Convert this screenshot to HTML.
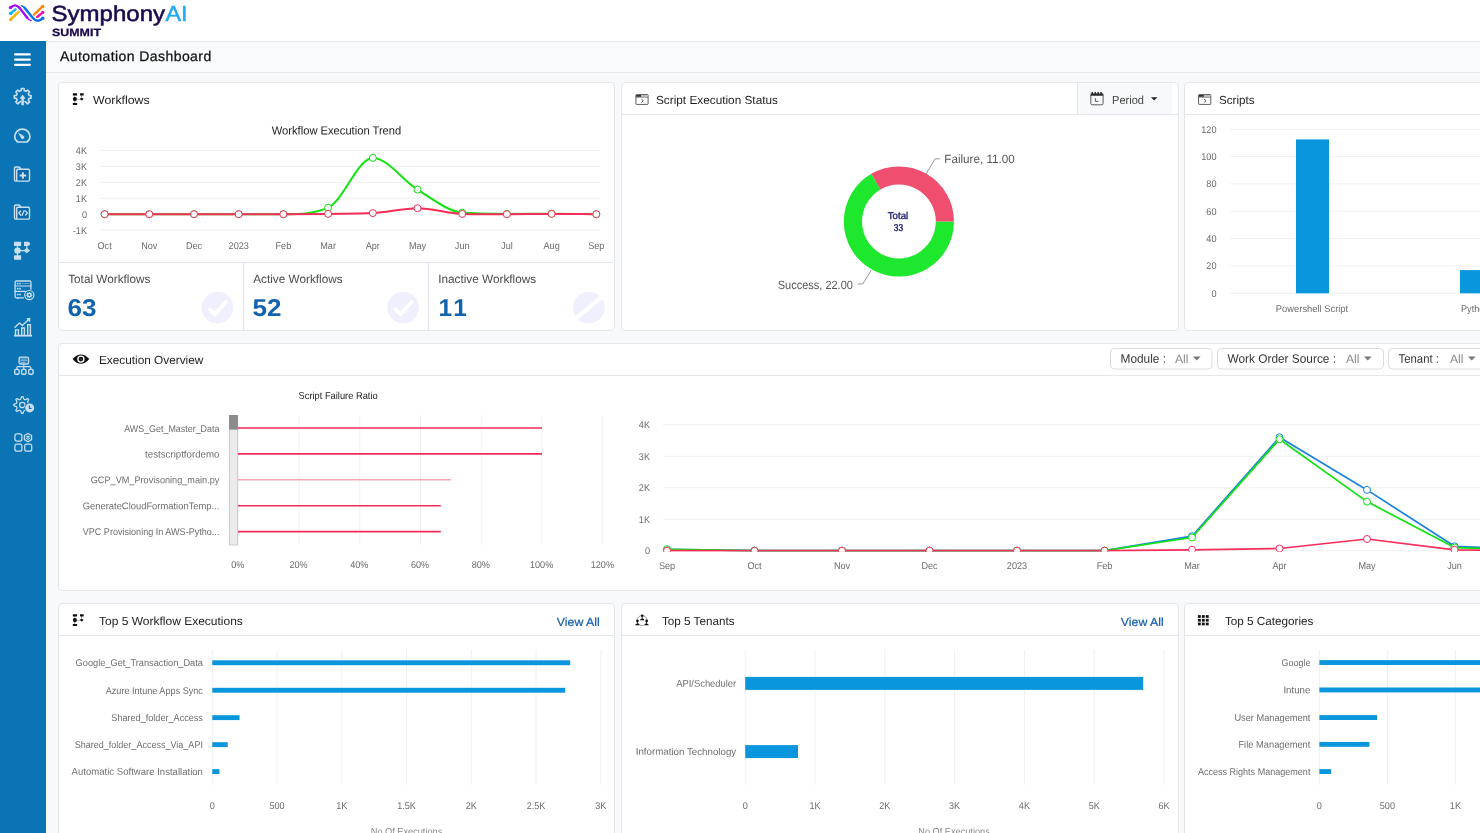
<!DOCTYPE html>
<html lang="en"><head><meta charset="utf-8"><title>Automation Dashboard</title>
<style>
*{box-sizing:border-box;margin:0;padding:0}
html,body{width:1480px;height:833px;overflow:hidden;background:#f8f9fa;font-family:"Liberation Sans",sans-serif}
.abs{position:absolute}
svg{overflow:hidden;display:block}
svg text{font-family:"Liberation Sans",sans-serif;text-rendering:geometricPrecision}
.ttl,.va,#titlebar h1{text-rendering:geometricPrecision}
#topbar{left:0;top:0;width:1480px;height:42px;background:#fff;border-bottom:1px solid #e6e6e6}
#side{left:0;top:41px;width:46px;height:792px;background:#0b74b5}
#titlebar{left:46px;top:42px;width:1434px;height:31px;background:#f9fafb;border-bottom:1px solid #e3e6ea}
#titlebar h1{position:absolute;left:14px;top:6px;-webkit-text-stroke:.25px #111;font-size:14px;font-weight:400;letter-spacing:.42px;color:#111;white-space:nowrap;line-height:16px}
.card{position:absolute;background:#fff;border:1px solid #e5e6e9;border-radius:4px;overflow:hidden}
.chead{position:absolute;left:0;top:0;right:0;height:32px;border-bottom:1px solid #e4e7eb}
.chead.nb{border-bottom:0}
.ttl{position:absolute;top:10px;font-size:11.7px;line-height:16px;color:#1d1d1d;white-space:nowrap;transform-origin:0 50%}
.per{color:#444}
.va{position:absolute;top:10.8px;font-size:11.7px;line-height:16px;color:#1560ac;-webkit-text-stroke:.2px #1560ac;white-space:nowrap;transform-origin:100% 50%}
#wrap{position:absolute;left:0;top:0;width:1480px;height:833px;will-change:transform;overflow:hidden}
</style></head><body><div id="wrap">

<div id="topbar" class="abs">
<svg class="abs " style="left:0px;top:0px" width="220" height="41" viewBox="0 0 220 41">
<g fill="none" stroke-linecap="round" stroke-width="2.4">
<path d="M10.6 7.6C12.4 5.8 13.6 5.4 14.9 5.4C16.6 5.4 17.8 6 19.3 7.6L27.4 18" stroke="#a30dfa"/>
<path d="M27.4 18C28.6 19.4 29.8 20.2 31 20.6" stroke="#a30dfa" stroke-width="1.3"/>
<path d="M21.5 5.6C22.6 6 23.4 6.6 24.3 7.4" stroke="#0a70f0" stroke-width="1.3"/>
<path d="M24.3 7.4L32.9 18C34.4 19.8 35.8 20.7 37.6 20.7C39.6 20.7 41 19.9 42.7 18.3" stroke="#0a70f0"/>
<path d="M10.6 13.4L15.5 9.3" stroke="#0db3fb"/>
<path d="M10.6 19.5L18.7 11.9" stroke="#ffb30a"/>
<path d="M34 14.7L42.7 6.4" stroke="#ff850a"/>
<path d="M37.2 17L42.7 12.4" stroke="#fb0dab"/>
</g>
<g stroke="none"><circle cx="10.6" cy="7.6" r="1.7" fill="#a30dfa"/><circle cx="10.6" cy="13.4" r="1.7" fill="#0db3fb"/><circle cx="10.6" cy="19.5" r="1.7" fill="#ffb30a"/>
<circle cx="42.7" cy="6.4" r="1.75" fill="#ff850a"/><circle cx="42.7" cy="12.4" r="1.7" fill="#fb0dab"/><circle cx="42.7" cy="18.3" r="1.75" fill="#0a70f0"/></g>
<text x="51.6" y="21" font-size="21.8" fill="#1b0a4c" stroke="#1b0a4c" stroke-width=".55" textLength="113.4" lengthAdjust="spacingAndGlyphs">Symphony</text>
<text x="165.6" y="21" font-size="21.8" fill="#1fa9f6" stroke="#1fa9f6" stroke-width=".45" textLength="22" lengthAdjust="spacingAndGlyphs">AI</text>
<text x="52" y="36.3" font-size="10.6" font-weight="700" fill="#1b0a4c" stroke="#1b0a4c" stroke-width=".25" textLength="49" lengthAdjust="spacingAndGlyphs">SUMMIT</text>
</svg></div>
<div id="side" class="abs">
<svg class="abs " style="left:0;top:0" width="46" height="792" viewBox="0 41 46 792">
<g fill="none" stroke="#c9dff0" stroke-width="1.5" stroke-linecap="round" stroke-linejoin="round">
<g stroke="#fff" stroke-width="2.3"><path d="M15.1 54.4H29.8M15.1 59.6H29.8M15.1 64.8H29.8"/></g>
<path d="M19.30 102.44L17.76 103.82L15.78 101.84L17.16 100.30L16.38 98.42L14.32 98.30L14.32 95.50L16.38 95.38L17.16 93.50L15.78 91.96L17.76 89.98L19.30 91.36L21.18 90.58L21.30 88.52L24.10 88.52L24.22 90.58L26.10 91.36L27.64 89.98L29.62 91.96L28.24 93.50L29.02 95.38L31.08 95.50L31.08 98.30L29.02 98.42L28.24 100.30L29.62 101.84L27.64 103.82L26.10 102.44" stroke-width="1.6" stroke-linejoin="round"/>
<path d="M19.30 102.44l1.2-.9M26.10 102.44l-1.2-.9" stroke-width="1.5"/>
<path d="M22.6 94.6L25.6 98.7H23.9V105.2H21.3V98.7H19.6Z" fill="#c9dff0" stroke="none"/>
<path d="M17.6 142H27.1C29 140.4 30 138.6 30 136.7A7.65 7.65 0 0 0 14.7 136.7C14.7 138.6 15.7 140.4 17.6 142Z" stroke-width="1.7" stroke-linejoin="round"/>
<path d="M18 132.6L23.4 135.7A1.75 1.75 0 1 1 21 138.1Z" fill="#c9dff0" stroke="none"/>
<rect x="17.4" y="170" width="11.4" height="10.4" fill="#0a67aa" stroke="none"/>
<path d="M16.4 181.1H15.6Q14.5 181.1 14.5 180V168.1Q14.5 167 15.6 167H18.6Q19.3 167 19.8 167.6L21.2 169.3H28.4Q29.5 169.3 29.5 170.4V180Q29.5 181.1 28.4 181.1H17.6Q16.7 181.1 16.7 180.2V170.4Q16.7 169.3 17.8 169.3H21.2" stroke-width="1.4" stroke-linejoin="round"/>
<rect x="17.4" y="208" width="11.4" height="10.4" fill="#0a67aa" stroke="none"/>
<path d="M16.4 219.1H15.6Q14.5 219.1 14.5 218V206.1Q14.5 205 15.6 205H18.6Q19.3 205 19.8 205.6L21.2 207.3H28.4Q29.5 207.3 29.5 208.4V218Q29.5 219.1 28.4 219.1H17.6Q16.7 219.1 16.7 218.2V208.4Q16.7 207.3 17.8 207.3H21.2" stroke-width="1.4" stroke-linejoin="round"/>
<path d="M19.6 175.5H26.2M22.9 172.2V178.8" stroke-width="2" stroke-linecap="butt"/>
<path d="M20.6 211L18.8 213L20.6 215M25.6 211L27.4 213L25.6 215M24.2 210.6L22 215.4" stroke-width="1.3"/>
<g fill="#c9dff0" stroke="none"><rect x="14" y="241.8" width="7.1" height="4.1" rx=".4"/><path d="M24 241.8H27.8Q30.1 241.8 30.1 243.85T27.8 245.9H24Z"/><circle cx="17.5" cy="250.6" r="3.2"/><rect x="14" y="255.3" width="7.1" height="4.4" rx=".4"/><path d="M26.8 247.9L30.2 250.4L26.8 253.3L23.4 250.4Z"/><path d="M16.9 245H18.1V256H16.9ZM26.2 245H27.4V249H26.2ZM20 250H24.6V251.2H20Z"/></g>
<path d="M23.6 297.8H16.4Q15.1 297.8 15.1 296.5V282.3Q15.1 281 16.4 281H29.6Q30.9 281 30.9 282.3V289.2" stroke-width="1.3"/>
<path d="M15.1 286H30.9M15.1 291.3H25.4" stroke-width="1.2"/>
<g fill="#c9dff0" stroke="none"><circle cx="17.7" cy="283.6" r=".9"/><circle cx="20" cy="283.6" r=".9"/><circle cx="17.7" cy="288.7" r=".9"/><circle cx="20" cy="288.7" r=".9"/><circle cx="17.7" cy="294.5" r=".9"/><circle cx="20" cy="294.5" r=".9"/><rect x="17" y="297.8" width="1.4" height="1.2"/></g>
<path d="M22.2 283.6H29" stroke-width=".7" opacity=".55"/>
<circle cx="29.3" cy="295.1" r="4.6" stroke-width="1.2"/>
<path d="M31.54 294.56L32.34 294.50L32.34 295.70L31.54 295.64L31.26 296.30L31.88 296.82L31.02 297.68L30.50 297.06L29.84 297.34L29.90 298.14L28.70 298.14L28.76 297.34L28.10 297.06L27.58 297.68L26.72 296.82L27.34 296.30L27.06 295.64L26.26 295.70L26.26 294.50L27.06 294.56L27.34 293.90L26.72 293.38L27.58 292.52L28.10 293.14L28.76 292.86L28.70 292.06L29.90 292.06L29.84 292.86L30.50 293.14L31.02 292.52L31.88 293.38L31.26 293.90ZM30.3 295.1A1 1 0 1 0 28.3 295.1A1 1 0 1 0 30.3 295.1Z" fill="#c9dff0" stroke="none" fill-rule="evenodd"/>
<path d="M14 335.7H32.1" stroke-width="1.7" stroke-linecap="butt"/>
<path d="M15.5 335V329.9H18.4V335M21.7 335V328H24.4V335M27.7 335V324.6H30.4V335" stroke-width="1.4" stroke-linejoin="miter" stroke-linecap="butt"/>
<path d="M15 327.2L19.5 322.9L22.4 325.5L28.6 319.6" stroke-width="1.4"/>
<path d="M30.4 317.8L30 322.2L26.2 318.4Z" fill="#c9dff0" stroke="none"/>
<rect x="19.1" y="357.1" width="9.4" height="6.9" rx="1.6" stroke-width="1.4"/>
<path d="M20.8 359H26.6M20.8 360.7H26.6M20.8 362.3H25" stroke-width=".9" opacity=".75"/>
<path d="M23.8 364.7V368.8M16.9 368.8V367.6Q16.9 366.7 17.8 366.7H29.8Q30.7 366.7 30.7 367.6V368.8" stroke-width="1.2"/>
<rect x="14.7" y="369.4" width="4.4" height="4.8" rx="1.3" stroke-width="1.4"/>
<rect x="21.6" y="369.4" width="4.4" height="4.8" rx="1.3" stroke-width="1.4"/>
<rect x="28.7" y="369.4" width="4.4" height="4.8" rx="1.3" stroke-width="1.4"/>
<path d="M20.04 399.55L20.83 398.87L21.70 396.52L22.90 396.52L23.77 398.87L24.56 399.55L25.59 399.63L27.87 398.58L28.72 399.43L27.67 401.71L27.75 402.74L28.43 403.53L30.78 404.40L30.78 405.60L28.43 406.47L27.75 407.26L27.67 408.29L28.72 410.57L27.87 411.42L25.59 410.37L24.56 410.45L23.77 411.13L22.90 413.48L21.70 413.48L20.83 411.13L20.04 410.45L19.01 410.37L16.73 411.42L15.88 410.57L16.93 408.29L16.85 407.26L16.17 406.47L13.82 405.60L13.82 404.40L16.17 403.53L16.85 402.74L16.93 401.71L15.88 399.43L16.73 398.58L19.01 399.63Z" stroke-width="1.25" stroke-linejoin="round"/>
<circle cx="22.3" cy="405" r="2.7" stroke-width="1.3"/>
<circle cx="29.7" cy="407.9" r="5.3" fill="#0b74b5" stroke="none"/>
<circle cx="29.7" cy="407.9" r="4.5" fill="#c9dff0" stroke="none"/>
<path d="M29.4 405.4V408.4H31.6" stroke="#0b74b5" stroke-width="1.2" stroke-linecap="butt"/>
<rect x="14.9" y="433.9" width="7" height="7.2" rx="2" stroke-width="1.25"/>
<rect x="14.9" y="444" width="7" height="7.2" rx="2" stroke-width="1.25"/>
<rect x="24.7" y="444" width="7" height="7.2" rx="2" stroke-width="1.25"/>
<path d="M28.00 433.50L31.55 435.55L31.55 439.65L28.00 441.70L24.45 439.65L24.45 435.55Z" stroke-width="1.3" stroke-linejoin="round"/>
<path d="M28 435.6L30 436.8L28 438L26 436.8ZM26 437.5L28 438.7L30 437.5V438.6L28 440L26 438.6Z" fill="#c9dff0" stroke="none"/>
</g></svg></div>
<div id="titlebar" class="abs"><h1>Automation Dashboard</h1></div>
<div class="card" style="left:58px;top:82px;width:557px;height:249px">
<div class="chead nb">
<span class="ttl" style="left:33.8px;transform:rotate(.03deg) scaleX(1.056)">Workflows</span>
</div>
<svg class="abs"  style="left:-1px;top:-1px" width="557" height="249" viewBox="58 82 557 249">
<g fill="#0d0d0d"><rect x="72.8" y="93.2" width="4.3" height="2.2" rx=".5"/><rect x="80.0" y="93.2" width="3.7" height="2.2" rx=".5"/><circle cx="74.9" cy="99.1" r="2.05"/><rect x="72.8" y="103.0" width="4.3" height="2.1" rx=".5"/><path d="M74.6 95.2h.5v8h-.5z M81.5 95.2h.5v3h-.5z" opacity=".8"/><path d="M76.8 98.9h3.4v.5h-3.4z" opacity=".45"/><path d="M80.0 98.6l1.7-.7 1.7.7v.7l-1.7 1.2-1.7-1.2z"/></g>
<text transform="translate(336.50,134.52) rotate(.03)" font-size="11.8" fill="#222" text-anchor="middle" textLength="129.5" lengthAdjust="spacingAndGlyphs">Workflow Execution Trend</text>
<path d="M100.5 150.6H600.5" stroke="#f0f0f0" stroke-width="1"/>
<text transform="translate(87.00,154.46) rotate(.03) scale(0.93,1)" font-size="9.8" fill="#6b6b6b" text-anchor="end">4K</text>
<path d="M100.5 166.5H600.5" stroke="#f0f0f0" stroke-width="1"/>
<text transform="translate(87.00,170.36) rotate(.03) scale(0.93,1)" font-size="9.8" fill="#6b6b6b" text-anchor="end">3K</text>
<path d="M100.5 182.4H600.5" stroke="#f0f0f0" stroke-width="1"/>
<text transform="translate(87.00,186.26) rotate(.03) scale(0.93,1)" font-size="9.8" fill="#6b6b6b" text-anchor="end">2K</text>
<path d="M100.5 198.3H600.5" stroke="#f0f0f0" stroke-width="1"/>
<text transform="translate(87.00,202.16) rotate(.03) scale(0.93,1)" font-size="9.8" fill="#6b6b6b" text-anchor="end">1K</text>
<path d="M100.5 214.2H600.5" stroke="#f0f0f0" stroke-width="1"/>
<text transform="translate(87.00,218.06) rotate(.03) scale(0.93,1)" font-size="9.8" fill="#6b6b6b" text-anchor="end">0</text>
<path d="M100.5 230.1H600.5" stroke="#f0f0f0" stroke-width="1"/>
<text transform="translate(87.00,233.96) rotate(.03) scale(0.93,1)" font-size="9.8" fill="#6b6b6b" text-anchor="end">-1K</text>
<text transform="translate(104.60,248.76) rotate(.03) scale(0.93,1)" font-size="9.8" fill="#6b6b6b" text-anchor="middle">Oct</text>
<text transform="translate(149.30,248.76) rotate(.03) scale(0.93,1)" font-size="9.8" fill="#6b6b6b" text-anchor="middle">Nov</text>
<text transform="translate(194.00,248.76) rotate(.03) scale(0.93,1)" font-size="9.8" fill="#6b6b6b" text-anchor="middle">Dec</text>
<text transform="translate(238.70,248.76) rotate(.03) scale(0.93,1)" font-size="9.8" fill="#6b6b6b" text-anchor="middle">2023</text>
<text transform="translate(283.40,248.76) rotate(.03) scale(0.93,1)" font-size="9.8" fill="#6b6b6b" text-anchor="middle">Feb</text>
<text transform="translate(328.10,248.76) rotate(.03) scale(0.93,1)" font-size="9.8" fill="#6b6b6b" text-anchor="middle">Mar</text>
<text transform="translate(372.80,248.76) rotate(.03) scale(0.93,1)" font-size="9.8" fill="#6b6b6b" text-anchor="middle">Apr</text>
<text transform="translate(417.50,248.76) rotate(.03) scale(0.93,1)" font-size="9.8" fill="#6b6b6b" text-anchor="middle">May</text>
<text transform="translate(462.20,248.76) rotate(.03) scale(0.93,1)" font-size="9.8" fill="#6b6b6b" text-anchor="middle">Jun</text>
<text transform="translate(506.90,248.76) rotate(.03) scale(0.93,1)" font-size="9.8" fill="#6b6b6b" text-anchor="middle">Jul</text>
<text transform="translate(551.60,248.76) rotate(.03) scale(0.93,1)" font-size="9.8" fill="#6b6b6b" text-anchor="middle">Aug</text>
<text transform="translate(596.30,248.76) rotate(.03) scale(0.93,1)" font-size="9.8" fill="#6b6b6b" text-anchor="middle">Sep</text>
<path d="M104.6 214.2C119.5 214.2 134.4 214.2 149.3 214.2C164.2 214.2 179.1 214.2 194.0 214.2C208.9 214.2 223.8 214.2 238.7 214.2C253.6 214.2 268.5 214.2 283.4 214.2C298.3 214.2 313.2 214.2 328.1 207.7C343.0 201.2 357.9 157.9 372.8 157.9C387.7 157.9 402.6 180.4 417.5 189.6C432.4 198.7 447.3 211.3 462.2 212.6C477.1 213.9 492.0 213.9 506.9 213.9C521.8 213.9 536.7 213.7 551.6 213.7C566.5 213.7 581.4 214.0 596.3 214.2" fill="none" stroke="#12e212" stroke-width="2"/>
<circle cx="104.6" cy="214.2" r="3.5" fill="#fff" stroke="#12e212" stroke-width="1"/>
<circle cx="149.3" cy="214.2" r="3.5" fill="#fff" stroke="#12e212" stroke-width="1"/>
<circle cx="194.0" cy="214.2" r="3.5" fill="#fff" stroke="#12e212" stroke-width="1"/>
<circle cx="238.7" cy="214.2" r="3.5" fill="#fff" stroke="#12e212" stroke-width="1"/>
<circle cx="283.4" cy="214.2" r="3.5" fill="#fff" stroke="#12e212" stroke-width="1"/>
<circle cx="328.1" cy="207.7" r="3.5" fill="#fff" stroke="#12e212" stroke-width="1"/>
<circle cx="372.8" cy="157.9" r="3.5" fill="#fff" stroke="#12e212" stroke-width="1"/>
<circle cx="417.5" cy="189.6" r="3.5" fill="#fff" stroke="#12e212" stroke-width="1"/>
<circle cx="462.2" cy="212.6" r="3.5" fill="#fff" stroke="#12e212" stroke-width="1"/>
<circle cx="506.9" cy="213.9" r="3.5" fill="#fff" stroke="#12e212" stroke-width="1"/>
<circle cx="551.6" cy="213.7" r="3.5" fill="#fff" stroke="#12e212" stroke-width="1"/>
<circle cx="596.3" cy="214.2" r="3.5" fill="#fff" stroke="#12e212" stroke-width="1"/>
<path d="M104.6 214.2C119.5 214.2 134.4 214.2 149.3 214.2C164.2 214.2 179.1 214.2 194.0 214.2C208.9 214.2 223.8 214.2 238.7 214.2C253.6 214.2 268.5 214.2 283.4 214.2C298.3 214.2 313.2 214.1 328.1 213.9C343.0 213.7 357.9 213.9 372.8 213.1C387.7 212.3 402.6 208.2 417.5 208.2C432.4 208.2 447.3 213.6 462.2 213.9C477.1 214.2 492.0 214.2 506.9 214.2C521.8 214.2 536.7 213.9 551.6 213.9C566.5 213.9 581.4 214.1 596.3 214.2" fill="none" stroke="#f52d58" stroke-width="2"/>
<circle cx="104.6" cy="214.2" r="3.5" fill="#fff" stroke="#f52d58" stroke-width="1"/>
<circle cx="149.3" cy="214.2" r="3.5" fill="#fff" stroke="#f52d58" stroke-width="1"/>
<circle cx="194.0" cy="214.2" r="3.5" fill="#fff" stroke="#f52d58" stroke-width="1"/>
<circle cx="238.7" cy="214.2" r="3.5" fill="#fff" stroke="#f52d58" stroke-width="1"/>
<circle cx="283.4" cy="214.2" r="3.5" fill="#fff" stroke="#f52d58" stroke-width="1"/>
<circle cx="328.1" cy="213.9" r="3.5" fill="#fff" stroke="#f52d58" stroke-width="1"/>
<circle cx="372.8" cy="213.1" r="3.5" fill="#fff" stroke="#f52d58" stroke-width="1"/>
<circle cx="417.5" cy="208.2" r="3.5" fill="#fff" stroke="#f52d58" stroke-width="1"/>
<circle cx="462.2" cy="213.9" r="3.5" fill="#fff" stroke="#f52d58" stroke-width="1"/>
<circle cx="506.9" cy="214.2" r="3.5" fill="#fff" stroke="#f52d58" stroke-width="1"/>
<circle cx="551.6" cy="213.9" r="3.5" fill="#fff" stroke="#f52d58" stroke-width="1"/>
<circle cx="596.3" cy="214.2" r="3.5" fill="#fff" stroke="#f52d58" stroke-width="1"/>
<path d="M58 262.5H615M243.5 262.5V331M428.5 262.5V331" stroke="#e4e6ef" stroke-width="1" fill="none"/>
<text transform="translate(68.20,282.91) rotate(.03)" font-size="11.9" fill="#4a4a4a" textLength="82.1" lengthAdjust="spacingAndGlyphs">Total Workflows</text>
<text transform="translate(67.40,315.99) rotate(.03)" font-size="24.4" fill="#1263af" font-weight="700" textLength="29.0" lengthAdjust="spacingAndGlyphs">63</text>
<circle cx="217.5" cy="307.6" r="15.8" fill="#f0effe"/>
<path d="M208.6 308.4L215.0 314.3L226.8 300.8" fill="none" stroke="#fff" stroke-width="3.8"/>
<text transform="translate(253.20,282.91) rotate(.03)" font-size="11.9" fill="#4a4a4a" textLength="89.5" lengthAdjust="spacingAndGlyphs">Active Workflows</text>
<text transform="translate(252.40,315.99) rotate(.03)" font-size="24.4" fill="#1263af" font-weight="700" textLength="29.0" lengthAdjust="spacingAndGlyphs">52</text>
<circle cx="403.2" cy="307.6" r="15.8" fill="#f0effe"/>
<path d="M394.3 308.4L400.7 314.3L412.5 300.8" fill="none" stroke="#fff" stroke-width="3.8"/>
<text transform="translate(438.20,282.91) rotate(.03)" font-size="11.9" fill="#4a4a4a" textLength="98.0" lengthAdjust="spacingAndGlyphs">Inactive Workflows</text>
<text transform="translate(438.50,315.99) rotate(.03)" font-size="24.4" fill="#1263af" font-weight="700" letter-spacing="2.5">11</text>
<circle cx="588.9" cy="307.6" r="15.8" fill="#f0effe"/>
<path d="M576.7 317.6L601.1 297.6" fill="none" stroke="#fff" stroke-width="4"/>
</svg>
</div>
<div class="card" style="left:621px;top:82px;width:558px;height:249px">
<div class="chead">
<span class="ttl" style="left:33.8px;transform:rotate(.03deg) scaleX(1.009)">Script Execution Status</span>
<div class="abs" style="left:455px;top:0;width:95px;height:31px;background:#f8f9fa;border-left:1px solid #e4e7eb"></div>
<span class="ttl per" style="left:490px;transform:rotate(.03deg) scaleX(0.947)">Period</span>
</div>
<svg class="abs " style="left:-1px;top:-1px" width="558" height="249" viewBox="621 82 558 249">
<g fill="none" stroke="#4a4a4a" stroke-width=".9"><rect x="635.9" y="94.6" width="12.2" height="9.8" rx=".6"/><path d="M635.9 97.0h12.2"/><path d="M641.4 99.1l1.9 1.7-1.9 1.7"/></g><path d="M636.2 94.9h5v1.8h-5z" fill="#333"/><path d="M641.2 94.9h6.6v1.8h-6.6z" fill="#bbb"/>
<g fill="none" stroke="#4a4a4a" stroke-width=".9"><rect x="1090.8" y="94.4" width="12.3" height="10.4" rx="1.4"/><path d="M1095.4 98.2v3.2h3"/></g><path d="M1090.6 93.6h12.7v2.2h-12.7z" fill="#2a2a2a"/><path d="M1092.3 92.5v1.6M1095.2 92.5v1.6M1098.1 92.5v1.6M1101 92.5v1.6" stroke="#2a2a2a" stroke-width="1.5" stroke-linecap="round"/>
<path d="M1151 97.3h6.4l-3.2 3.3z" fill="#222"/>
<path d="M954.00 221.50A55.1 55.1 0 1 1 871.35 173.78L880.45 189.54A36.9 36.9 0 1 0 935.80 221.50Z" fill="#1de82d"/>
<path d="M871.35 173.78A55.1 55.1 0 0 1 954.00 221.50L935.80 221.50A36.9 36.9 0 0 0 880.45 189.54Z" fill="#f04e6e"/>
<path d="M926 174.2L935.1 158.8H939.9" fill="none" stroke="#8a8a8a" stroke-width=".9"/>
<path d="M871.2 270.2L862.7 284H857.9" fill="none" stroke="#8a8a8a" stroke-width=".9"/>
<text transform="translate(944.30,163.00) rotate(.03)" font-size="12" fill="#555" textLength="70.5" lengthAdjust="spacingAndGlyphs">Failure, 11.00</text>
<text transform="translate(852.90,288.80) rotate(.03)" font-size="12" fill="#555" text-anchor="end" textLength="75.2" lengthAdjust="spacingAndGlyphs">Success, 22.00</text>
<text transform="translate(898.00,219.09) rotate(.03)" font-size="9.9" fill="#1f2072" text-anchor="middle" textLength="20.5" lengthAdjust="spacingAndGlyphs" stroke="#1f2072" stroke-width=".35">Total</text>
<text transform="translate(898.50,230.79) rotate(.03)" font-size="9.9" fill="#1f2072" text-anchor="middle" textLength="9.3" lengthAdjust="spacingAndGlyphs" stroke="#1f2072" stroke-width=".35">33</text>
</svg>
</div>
<div class="card" style="left:1184px;top:82px;width:320px;height:249px">
<div class="chead">
<span class="ttl" style="left:33.8px;transform:rotate(.03deg) scaleX(0.994)">Scripts</span>
</div>
<svg class="abs " style="left:-1px;top:-1px" width="320" height="249" viewBox="1184 82 320 249">
<g fill="none" stroke="#4a4a4a" stroke-width=".9"><rect x="1198.6" y="94.6" width="12.2" height="9.8" rx=".6"/><path d="M1198.6 97.0h12.2"/><path d="M1204.1 99.1l1.9 1.7-1.9 1.7"/></g><path d="M1198.8999999999999 94.9h5v1.8h-5z" fill="#333"/><path d="M1203.8999999999999 94.9h6.6v1.8h-6.6z" fill="#bbb"/>
<path d="M1230 293.3H1500" stroke="#f0f0f0"/>
<text transform="translate(1216.50,296.76) rotate(.03) scale(0.93,1)" font-size="9.8" fill="#6b6b6b" text-anchor="end">0</text>
<path d="M1230 266.0H1500" stroke="#f0f0f0"/>
<text transform="translate(1216.50,269.42) rotate(.03) scale(0.93,1)" font-size="9.8" fill="#6b6b6b" text-anchor="end">20</text>
<path d="M1230 238.6H1500" stroke="#f0f0f0"/>
<text transform="translate(1216.50,242.08) rotate(.03) scale(0.93,1)" font-size="9.8" fill="#6b6b6b" text-anchor="end">40</text>
<path d="M1230 211.3H1500" stroke="#f0f0f0"/>
<text transform="translate(1216.50,214.74) rotate(.03) scale(0.93,1)" font-size="9.8" fill="#6b6b6b" text-anchor="end">60</text>
<path d="M1230 183.9H1500" stroke="#f0f0f0"/>
<text transform="translate(1216.50,187.40) rotate(.03) scale(0.93,1)" font-size="9.8" fill="#6b6b6b" text-anchor="end">80</text>
<path d="M1230 156.6H1500" stroke="#f0f0f0"/>
<text transform="translate(1216.50,160.06) rotate(.03) scale(0.93,1)" font-size="9.8" fill="#6b6b6b" text-anchor="end">100</text>
<path d="M1230 129.3H1500" stroke="#f0f0f0"/>
<text transform="translate(1216.50,132.72) rotate(.03) scale(0.93,1)" font-size="9.8" fill="#6b6b6b" text-anchor="end">120</text>
<rect x="1296" y="139.4" width="33" height="153.9" fill="#0a96dc"/>
<rect x="1460" y="270.1" width="33" height="23.2" fill="#0a96dc"/>
<text transform="translate(1312.00,311.91) rotate(.03)" font-size="9.8" fill="#6e6e6e" text-anchor="middle" textLength="72.3" lengthAdjust="spacingAndGlyphs">Powershell Script</text>
<text transform="translate(1461.00,311.91) rotate(.03) scale(0.93,1)" font-size="9.8" fill="#6b6b6b">Python Script</text>
</svg>
</div>
<div class="card" style="left:58px;top:343px;width:1460px;height:248px">
<div class="chead">
<span class="ttl" style="left:39.9px;top:9px;transform:rotate(.03deg) scaleX(1.01)">Execution Overview</span>
</div>
<svg class="abs " style="left:-1px;top:-1px" width="1460" height="248" viewBox="58 343 1460 248">
<path d="M72.6 359.1C75.4 355.4 78.2 354.4 80.9 354.4S86.4 355.4 89.3 359.1C86.4 362.8 83.6 363.8 80.9 363.8S75.4 362.8 72.6 359.1Z" fill="#111"/><circle cx="80.9" cy="359.1" r="3.7" fill="#fff"/><circle cx="80.9" cy="359.1" r="2.3" fill="#111"/><circle cx="80.9" cy="359.1" r=".7" fill="#666"/>
<rect x="1110.5" y="348.5" width="101.5" height="20.5" rx="4" fill="#fff" stroke="#dcdcdc"/>
<text transform="translate(1120.50,362.77) rotate(.03)" font-size="12.2" fill="#333" textLength="45.5" lengthAdjust="spacingAndGlyphs">Module :</text>
<text transform="translate(1175.00,363.10) rotate(.03)" font-size="12" fill="#8a8a8a" textLength="13.5" lengthAdjust="spacingAndGlyphs">All</text>
<path d="M1193 356.6h7.6l-3.8 4z" fill="#777"/>
<rect x="1217.5" y="348.5" width="166" height="20.5" rx="4" fill="#fff" stroke="#dcdcdc"/>
<text transform="translate(1227.50,362.77) rotate(.03)" font-size="12.2" fill="#333" textLength="108.5" lengthAdjust="spacingAndGlyphs">Work Order Source :</text>
<text transform="translate(1346.00,363.10) rotate(.03)" font-size="12" fill="#8a8a8a" textLength="13.5" lengthAdjust="spacingAndGlyphs">All</text>
<path d="M1364 356.6h7.6l-3.8 4z" fill="#777"/>
<rect x="1388.5" y="348.5" width="110" height="20.5" rx="4" fill="#fff" stroke="#dcdcdc"/>
<text transform="translate(1398.50,362.77) rotate(.03)" font-size="12.2" fill="#333" textLength="40.5" lengthAdjust="spacingAndGlyphs">Tenant :</text>
<text transform="translate(1450.00,363.10) rotate(.03)" font-size="12" fill="#8a8a8a" textLength="13.5" lengthAdjust="spacingAndGlyphs">All</text>
<path d="M1468 356.6h7.6l-3.8 4z" fill="#777"/>
<text transform="translate(338.10,398.83) rotate(.03)" font-size="10" fill="#222" text-anchor="middle" textLength="79.2" lengthAdjust="spacingAndGlyphs">Script Failure Ratio</text>
<path d="M238.2 415V545" stroke="#f0f0f0"/>
<text transform="translate(237.80,567.81) rotate(.03) scale(0.93,1)" font-size="9.8" fill="#6b6b6b" text-anchor="middle">0%</text>
<path d="M299.0 415V545" stroke="#f0f0f0"/>
<text transform="translate(298.56,567.81) rotate(.03) scale(0.93,1)" font-size="9.8" fill="#6b6b6b" text-anchor="middle">20%</text>
<path d="M359.7 415V545" stroke="#f0f0f0"/>
<text transform="translate(359.32,567.81) rotate(.03) scale(0.93,1)" font-size="9.8" fill="#6b6b6b" text-anchor="middle">40%</text>
<path d="M420.5 415V545" stroke="#f0f0f0"/>
<text transform="translate(420.08,567.81) rotate(.03) scale(0.93,1)" font-size="9.8" fill="#6b6b6b" text-anchor="middle">60%</text>
<path d="M481.2 415V545" stroke="#f0f0f0"/>
<text transform="translate(480.84,567.81) rotate(.03) scale(0.93,1)" font-size="9.8" fill="#6b6b6b" text-anchor="middle">80%</text>
<path d="M542.0 415V545" stroke="#f0f0f0"/>
<text transform="translate(541.60,567.81) rotate(.03) scale(0.93,1)" font-size="9.8" fill="#6b6b6b" text-anchor="middle">100%</text>
<path d="M602.8 415V545" stroke="#f0f0f0"/>
<text transform="translate(602.36,567.81) rotate(.03) scale(0.93,1)" font-size="9.8" fill="#6b6b6b" text-anchor="middle">120%</text>
<rect x="229.4" y="415.4" width="8.2" height="129.6" fill="#ebebeb" stroke="#c4c4c4" stroke-width=".8"/><rect x="229" y="415" width="8.9" height="14.6" fill="#8c8c8c"/>
<text transform="translate(219.40,431.56) rotate(.03)" font-size="9.8" fill="#6e6e6e" text-anchor="end" textLength="95.2" lengthAdjust="spacingAndGlyphs">AWS_Get_Master_Data</text>
<path d="M238 428.0H542.0" stroke="#f42a56" stroke-width="1.6"/>
<text transform="translate(219.40,457.46) rotate(.03)" font-size="9.8" fill="#6e6e6e" text-anchor="end" textLength="74.3" lengthAdjust="spacingAndGlyphs">testscriptfordemo</text>
<path d="M238 453.9H542.0" stroke="#f42a56" stroke-width="1.6"/>
<text transform="translate(219.40,483.36) rotate(.03)" font-size="9.8" fill="#6e6e6e" text-anchor="end" textLength="128.7" lengthAdjust="spacingAndGlyphs">GCP_VM_Provisoning_main.py</text>
<path d="M238 479.8H450.9" stroke="#f9a3b2" stroke-width="1.6"/>
<text transform="translate(219.40,509.26) rotate(.03)" font-size="9.8" fill="#6e6e6e" text-anchor="end" textLength="136.7" lengthAdjust="spacingAndGlyphs">GenerateCloudFormationTemp...</text>
<path d="M238 505.7H440.8" stroke="#f42a56" stroke-width="1.6"/>
<text transform="translate(219.40,535.16) rotate(.03)" font-size="9.8" fill="#6e6e6e" text-anchor="end" textLength="136.7" lengthAdjust="spacingAndGlyphs">VPC Provisioning In AWS-Pytho...</text>
<path d="M238 531.6H440.8" stroke="#f42a56" stroke-width="1.6"/>
<path d="M663 550.7H1520" stroke="#f0f0f0"/>
<text transform="translate(650.00,554.11) rotate(.03) scale(0.93,1)" font-size="9.8" fill="#6b6b6b" text-anchor="end">0</text>
<path d="M663 519.2H1520" stroke="#f0f0f0"/>
<text transform="translate(650.00,522.61) rotate(.03) scale(0.93,1)" font-size="9.8" fill="#6b6b6b" text-anchor="end">1K</text>
<path d="M663 487.7H1520" stroke="#f0f0f0"/>
<text transform="translate(650.00,491.11) rotate(.03) scale(0.93,1)" font-size="9.8" fill="#6b6b6b" text-anchor="end">2K</text>
<path d="M663 456.2H1520" stroke="#f0f0f0"/>
<text transform="translate(650.00,459.61) rotate(.03) scale(0.93,1)" font-size="9.8" fill="#6b6b6b" text-anchor="end">3K</text>
<path d="M663 424.7H1520" stroke="#f0f0f0"/>
<text transform="translate(650.00,428.11) rotate(.03) scale(0.93,1)" font-size="9.8" fill="#6b6b6b" text-anchor="end">4K</text>
<text transform="translate(667.00,569.41) rotate(.03) scale(0.93,1)" font-size="9.8" fill="#6b6b6b" text-anchor="middle">Sep</text>
<text transform="translate(754.50,569.41) rotate(.03) scale(0.93,1)" font-size="9.8" fill="#6b6b6b" text-anchor="middle">Oct</text>
<text transform="translate(842.00,569.41) rotate(.03) scale(0.93,1)" font-size="9.8" fill="#6b6b6b" text-anchor="middle">Nov</text>
<text transform="translate(929.50,569.41) rotate(.03) scale(0.93,1)" font-size="9.8" fill="#6b6b6b" text-anchor="middle">Dec</text>
<text transform="translate(1017.00,569.41) rotate(.03) scale(0.93,1)" font-size="9.8" fill="#6b6b6b" text-anchor="middle">2023</text>
<text transform="translate(1104.50,569.41) rotate(.03) scale(0.93,1)" font-size="9.8" fill="#6b6b6b" text-anchor="middle">Feb</text>
<text transform="translate(1192.00,569.41) rotate(.03) scale(0.93,1)" font-size="9.8" fill="#6b6b6b" text-anchor="middle">Mar</text>
<text transform="translate(1279.50,569.41) rotate(.03) scale(0.93,1)" font-size="9.8" fill="#6b6b6b" text-anchor="middle">Apr</text>
<text transform="translate(1367.00,569.41) rotate(.03) scale(0.93,1)" font-size="9.8" fill="#6b6b6b" text-anchor="middle">May</text>
<text transform="translate(1454.50,569.41) rotate(.03) scale(0.93,1)" font-size="9.8" fill="#6b6b6b" text-anchor="middle">Jun</text>
<text transform="translate(1542.00,569.41) rotate(.03) scale(0.93,1)" font-size="9.8" fill="#6b6b6b" text-anchor="middle">Jul</text>
<clipPath id="exclip"><rect x="655" y="410" width="900" height="141.7"/></clipPath><g clip-path="url(#exclip)">
<path d="M667.0 549.4L754.5 550.7L842.0 550.7L929.5 550.7L1017.0 550.7L1104.5 550.7L1192.0 536.2L1279.5 437.3L1367.0 489.9L1454.5 546.3L1542.0 549.8" fill="none" stroke="#1a82e0" stroke-width="1.7" stroke-linejoin="round"/>
<circle cx="667.0" cy="549.4" r="3.5" fill="#fff" stroke="#1a82e0" stroke-width="1"/>
<circle cx="754.5" cy="550.7" r="3.5" fill="#fff" stroke="#1a82e0" stroke-width="1"/>
<circle cx="842.0" cy="550.7" r="3.5" fill="#fff" stroke="#1a82e0" stroke-width="1"/>
<circle cx="929.5" cy="550.7" r="3.5" fill="#fff" stroke="#1a82e0" stroke-width="1"/>
<circle cx="1017.0" cy="550.7" r="3.5" fill="#fff" stroke="#1a82e0" stroke-width="1"/>
<circle cx="1104.5" cy="550.7" r="3.5" fill="#fff" stroke="#1a82e0" stroke-width="1"/>
<circle cx="1192.0" cy="536.2" r="3.5" fill="#fff" stroke="#1a82e0" stroke-width="1"/>
<circle cx="1279.5" cy="437.3" r="3.5" fill="#fff" stroke="#1a82e0" stroke-width="1"/>
<circle cx="1367.0" cy="489.9" r="3.5" fill="#fff" stroke="#1a82e0" stroke-width="1"/>
<circle cx="1454.5" cy="546.3" r="3.5" fill="#fff" stroke="#1a82e0" stroke-width="1"/>
<circle cx="1542.0" cy="549.8" r="3.5" fill="#fff" stroke="#1a82e0" stroke-width="1"/>
<path d="M667.0 549.3L754.5 550.7L842.0 550.7L929.5 550.7L1017.0 550.7L1104.5 550.7L1192.0 537.5L1279.5 439.2L1367.0 501.6L1454.5 547.6L1542.0 550.1" fill="none" stroke="#12e212" stroke-width="1.7" stroke-linejoin="round"/>
<circle cx="667.0" cy="549.3" r="3.5" fill="#fff" stroke="#12e212" stroke-width="1"/>
<circle cx="754.5" cy="550.7" r="3.5" fill="#fff" stroke="#12e212" stroke-width="1"/>
<circle cx="842.0" cy="550.7" r="3.5" fill="#fff" stroke="#12e212" stroke-width="1"/>
<circle cx="929.5" cy="550.7" r="3.5" fill="#fff" stroke="#12e212" stroke-width="1"/>
<circle cx="1017.0" cy="550.7" r="3.5" fill="#fff" stroke="#12e212" stroke-width="1"/>
<circle cx="1104.5" cy="550.7" r="3.5" fill="#fff" stroke="#12e212" stroke-width="1"/>
<circle cx="1192.0" cy="537.5" r="3.5" fill="#fff" stroke="#12e212" stroke-width="1"/>
<circle cx="1279.5" cy="439.2" r="3.5" fill="#fff" stroke="#12e212" stroke-width="1"/>
<circle cx="1367.0" cy="501.6" r="3.5" fill="#fff" stroke="#12e212" stroke-width="1"/>
<circle cx="1454.5" cy="547.6" r="3.5" fill="#fff" stroke="#12e212" stroke-width="1"/>
<circle cx="1542.0" cy="550.1" r="3.5" fill="#fff" stroke="#12e212" stroke-width="1"/>
<path d="M667.0 550.7L754.5 550.7L842.0 550.7L929.5 550.7L1017.0 550.7L1104.5 550.7L1192.0 549.8L1279.5 548.5L1367.0 539.0L1454.5 549.8L1542.0 550.7" fill="none" stroke="#f52d58" stroke-width="1.7" stroke-linejoin="round"/>
<circle cx="667.0" cy="550.7" r="3.5" fill="#fff" stroke="#f52d58" stroke-width="1"/>
<circle cx="754.5" cy="550.7" r="3.5" fill="#fff" stroke="#f52d58" stroke-width="1"/>
<circle cx="842.0" cy="550.7" r="3.5" fill="#fff" stroke="#f52d58" stroke-width="1"/>
<circle cx="929.5" cy="550.7" r="3.5" fill="#fff" stroke="#f52d58" stroke-width="1"/>
<circle cx="1017.0" cy="550.7" r="3.5" fill="#fff" stroke="#f52d58" stroke-width="1"/>
<circle cx="1104.5" cy="550.7" r="3.5" fill="#fff" stroke="#f52d58" stroke-width="1"/>
<circle cx="1192.0" cy="549.8" r="3.5" fill="#fff" stroke="#f52d58" stroke-width="1"/>
<circle cx="1279.5" cy="548.5" r="3.5" fill="#fff" stroke="#f52d58" stroke-width="1"/>
<circle cx="1367.0" cy="539.0" r="3.5" fill="#fff" stroke="#f52d58" stroke-width="1"/>
<circle cx="1454.5" cy="549.8" r="3.5" fill="#fff" stroke="#f52d58" stroke-width="1"/>
<circle cx="1542.0" cy="550.7" r="3.5" fill="#fff" stroke="#f52d58" stroke-width="1"/>
</g>
</svg>
</div>
<div class="card" style="left:58px;top:603px;width:557px;height:260px">
<div class="chead">
<span class="ttl" style="left:40.2px;transform:rotate(.03deg) scaleX(1.027)">Top 5 Workflow Executions</span>
<span class="va" style="right:14.4px;transform:rotate(.03deg) scaleX(1.053)">View All</span>
</div>
<svg class="abs " style="left:-1px;top:-1px" width="557" height="260" viewBox="58 603 557 260">
<g fill="#0d0d0d"><rect x="72.8" y="614.2" width="4.3" height="2.2" rx=".5"/><rect x="80.0" y="614.2" width="3.7" height="2.2" rx=".5"/><circle cx="74.9" cy="620.1" r="2.05"/><rect x="72.8" y="624.0" width="4.3" height="2.1" rx=".5"/><path d="M74.6 616.2h.5v8h-.5z M81.5 616.2h.5v3h-.5z" opacity=".8"/><path d="M76.8 619.9h3.4v.5h-3.4z" opacity=".45"/><path d="M80.0 619.6l1.7-.7 1.7.7v.7l-1.7 1.2-1.7-1.2z"/></g>
<path d="M212.3 650V785" stroke="#f0f0f0"/>
<text transform="translate(212.30,809.11) rotate(.03) scale(0.93,1)" font-size="9.8" fill="#6b6b6b" text-anchor="middle">0</text>
<path d="M277.1 650V785" stroke="#f0f0f0"/>
<text transform="translate(277.05,809.11) rotate(.03) scale(0.93,1)" font-size="9.8" fill="#6b6b6b" text-anchor="middle">500</text>
<path d="M341.8 650V785" stroke="#f0f0f0"/>
<text transform="translate(341.80,809.11) rotate(.03) scale(0.93,1)" font-size="9.8" fill="#6b6b6b" text-anchor="middle">1K</text>
<path d="M406.6 650V785" stroke="#f0f0f0"/>
<text transform="translate(406.55,809.11) rotate(.03) scale(0.93,1)" font-size="9.8" fill="#6b6b6b" text-anchor="middle">1.5K</text>
<path d="M471.3 650V785" stroke="#f0f0f0"/>
<text transform="translate(471.30,809.11) rotate(.03) scale(0.93,1)" font-size="9.8" fill="#6b6b6b" text-anchor="middle">2K</text>
<path d="M536.0 650V785" stroke="#f0f0f0"/>
<text transform="translate(536.05,809.11) rotate(.03) scale(0.93,1)" font-size="9.8" fill="#6b6b6b" text-anchor="middle">2.5K</text>
<path d="M600.8 650V785" stroke="#f0f0f0"/>
<text transform="translate(600.80,809.11) rotate(.03) scale(0.93,1)" font-size="9.8" fill="#6b6b6b" text-anchor="middle">3K</text>
<text transform="translate(202.90,666.11) rotate(.03)" font-size="9.8" fill="#6e6e6e" text-anchor="end" textLength="127.3" lengthAdjust="spacingAndGlyphs">Google_Get_Transaction_Data</text>
<rect x="212.3" y="660.3" width="357.9" height="4.9" fill="#0a96dc"/>
<text transform="translate(202.90,693.61) rotate(.03)" font-size="9.8" fill="#6e6e6e" text-anchor="end" textLength="97.2" lengthAdjust="spacingAndGlyphs">Azure Intune Apps Sync</text>
<rect x="212.3" y="687.8" width="352.9" height="4.9" fill="#0a96dc"/>
<text transform="translate(202.90,721.01) rotate(.03)" font-size="9.8" fill="#6e6e6e" text-anchor="end" textLength="91.6" lengthAdjust="spacingAndGlyphs">Shared_folder_Access</text>
<rect x="212.3" y="715.2" width="27.2" height="4.9" fill="#0a96dc"/>
<text transform="translate(202.90,748.01) rotate(.03)" font-size="9.8" fill="#6e6e6e" text-anchor="end" textLength="128.2" lengthAdjust="spacingAndGlyphs">Shared_folder_Access_Via_API</text>
<rect x="212.3" y="742.2" width="15.4" height="4.9" fill="#0a96dc"/>
<text transform="translate(202.90,774.91) rotate(.03)" font-size="9.8" fill="#6e6e6e" text-anchor="end" textLength="131.3" lengthAdjust="spacingAndGlyphs">Automatic Software Installation</text>
<rect x="212.3" y="769.1" width="7.1" height="4.9" fill="#0a96dc"/>
<text transform="translate(406.50,834.81) rotate(.03)" font-size="9.8" fill="#8a8a8a" text-anchor="middle" textLength="71.5" lengthAdjust="spacingAndGlyphs">No Of Executions</text>
</svg>
</div>
<div class="card" style="left:621px;top:603px;width:558px;height:260px">
<div class="chead">
<span class="ttl" style="left:40.2px;transform:rotate(.03deg) scaleX(1.0)">Top 5 Tenants</span>
<span class="va" style="right:14.4px;transform:rotate(.03deg) scaleX(1.053)">View All</span>
</div>
<svg class="abs " style="left:-1px;top:-1px" width="558" height="260" viewBox="621 603 558 260">
<circle cx="642.1" cy="620.5" r="5" fill="none" stroke="#555" stroke-width=".55"/><g fill="#0d0d0d"><circle cx="642.2" cy="615.8" r="1.3"/><path d="M641.8 616.4h.8v2.6h-.8z"/><path d="M640 620.2q0-1.7 2.2-1.7t2.2 1.7z"/><circle cx="637.4" cy="620.9" r="1.3"/><path d="M637 621.6h.8v2.2h-.8z"/><path d="M635.3 625.3q0-1.8 2.1-1.8t2.1 1.8z"/><circle cx="646.6" cy="620.9" r="1.3"/><path d="M646.2 621.6h.8v2.2h-.8z"/><path d="M644.5 625.3q0-1.8 2.1-1.8t2.1 1.8z"/></g>
<path d="M745.2 650V785" stroke="#f0f0f0"/>
<text transform="translate(745.20,809.11) rotate(.03) scale(0.93,1)" font-size="9.8" fill="#6b6b6b" text-anchor="middle">0</text>
<path d="M815.0 650V785" stroke="#f0f0f0"/>
<text transform="translate(815.00,809.11) rotate(.03) scale(0.93,1)" font-size="9.8" fill="#6b6b6b" text-anchor="middle">1K</text>
<path d="M884.8 650V785" stroke="#f0f0f0"/>
<text transform="translate(884.80,809.11) rotate(.03) scale(0.93,1)" font-size="9.8" fill="#6b6b6b" text-anchor="middle">2K</text>
<path d="M954.6 650V785" stroke="#f0f0f0"/>
<text transform="translate(954.60,809.11) rotate(.03) scale(0.93,1)" font-size="9.8" fill="#6b6b6b" text-anchor="middle">3K</text>
<path d="M1024.4 650V785" stroke="#f0f0f0"/>
<text transform="translate(1024.40,809.11) rotate(.03) scale(0.93,1)" font-size="9.8" fill="#6b6b6b" text-anchor="middle">4K</text>
<path d="M1094.2 650V785" stroke="#f0f0f0"/>
<text transform="translate(1094.20,809.11) rotate(.03) scale(0.93,1)" font-size="9.8" fill="#6b6b6b" text-anchor="middle">5K</text>
<path d="M1164.0 650V785" stroke="#f0f0f0"/>
<text transform="translate(1164.00,809.11) rotate(.03) scale(0.93,1)" font-size="9.8" fill="#6b6b6b" text-anchor="middle">6K</text>
<text transform="translate(736.20,686.71) rotate(.03)" font-size="9.8" fill="#6e6e6e" text-anchor="end" textLength="60.0" lengthAdjust="spacingAndGlyphs">API/Scheduler</text>
<rect x="745.2" y="676.9" width="398.0" height="13" fill="#0a96dc"/>
<text transform="translate(736.20,754.91) rotate(.03)" font-size="9.8" fill="#6e6e6e" text-anchor="end" textLength="100.5" lengthAdjust="spacingAndGlyphs">Information Technology</text>
<rect x="745.2" y="745.1" width="52.8" height="13" fill="#0a96dc"/>
<text transform="translate(954.00,834.81) rotate(.03)" font-size="9.8" fill="#8a8a8a" text-anchor="middle" textLength="71.5" lengthAdjust="spacingAndGlyphs">No Of Executions</text>
</svg>
</div>
<div class="card" style="left:1184px;top:603px;width:320px;height:260px">
<div class="chead">
<span class="ttl" style="left:40.4px;transform:rotate(.03deg) scaleX(1.0)">Top 5 Categories</span>
</div>
<svg class="abs " style="left:-1px;top:-1px" width="320" height="260" viewBox="1184 603 320 260">
<g fill="#151515"><rect x="1197.90" y="615.10" width="2.9" height="2.75"/><rect x="1197.90" y="618.85" width="2.9" height="2.75"/><rect x="1197.90" y="622.60" width="2.9" height="2.75"/><rect x="1201.85" y="615.10" width="2.9" height="2.75"/><rect x="1201.85" y="618.85" width="2.9" height="2.75"/><rect x="1201.85" y="622.60" width="2.9" height="2.75"/><rect x="1205.80" y="615.10" width="2.9" height="2.75"/><rect x="1205.80" y="618.85" width="2.9" height="2.75"/><rect x="1205.80" y="622.60" width="2.9" height="2.75"/></g>
<path d="M1319.4 650V785" stroke="#f0f0f0"/>
<text transform="translate(1319.40,809.11) rotate(.03) scale(0.93,1)" font-size="9.8" fill="#6b6b6b" text-anchor="middle">0</text>
<path d="M1387.4 650V785" stroke="#f0f0f0"/>
<text transform="translate(1387.40,809.11) rotate(.03) scale(0.93,1)" font-size="9.8" fill="#6b6b6b" text-anchor="middle">500</text>
<path d="M1455.4 650V785" stroke="#f0f0f0"/>
<text transform="translate(1455.40,809.11) rotate(.03) scale(0.93,1)" font-size="9.8" fill="#6b6b6b" text-anchor="middle">1K</text>
<path d="M1523.4 650V785" stroke="#f0f0f0"/>
<text transform="translate(1523.40,809.11) rotate(.03) scale(0.93,1)" font-size="9.8" fill="#6b6b6b" text-anchor="middle">1.5K</text>
<text transform="translate(1310.40,665.91) rotate(.03)" font-size="9.8" fill="#6e6e6e" text-anchor="end" textLength="29.0" lengthAdjust="spacingAndGlyphs">Google</text>
<rect x="1319.4" y="660.1" width="180.6" height="4.9" fill="#0a96dc"/>
<text transform="translate(1310.40,693.31) rotate(.03)" font-size="9.8" fill="#6e6e6e" text-anchor="end" textLength="27.0" lengthAdjust="spacingAndGlyphs">Intune</text>
<rect x="1319.4" y="687.5" width="180.6" height="4.9" fill="#0a96dc"/>
<text transform="translate(1310.40,720.91) rotate(.03)" font-size="9.8" fill="#6e6e6e" text-anchor="end" textLength="76.0" lengthAdjust="spacingAndGlyphs">User Management</text>
<rect x="1319.4" y="715.1" width="57.6" height="4.9" fill="#0a96dc"/>
<text transform="translate(1310.40,747.71) rotate(.03)" font-size="9.8" fill="#6e6e6e" text-anchor="end" textLength="72.0" lengthAdjust="spacingAndGlyphs">File Management</text>
<rect x="1319.4" y="741.9" width="50.0" height="4.9" fill="#0a96dc"/>
<text transform="translate(1310.40,774.91) rotate(.03)" font-size="9.8" fill="#6e6e6e" text-anchor="end" textLength="112.5" lengthAdjust="spacingAndGlyphs">Access Rights Management</text>
<rect x="1319.4" y="769.1" width="11.6" height="4.9" fill="#0a96dc"/>
<text transform="translate(1600.00,834.81) rotate(.03)" font-size="9.8" fill="#8a8a8a" text-anchor="middle" textLength="71.5" lengthAdjust="spacingAndGlyphs">No Of Executions</text>
</svg>
</div>
</div></body></html>
